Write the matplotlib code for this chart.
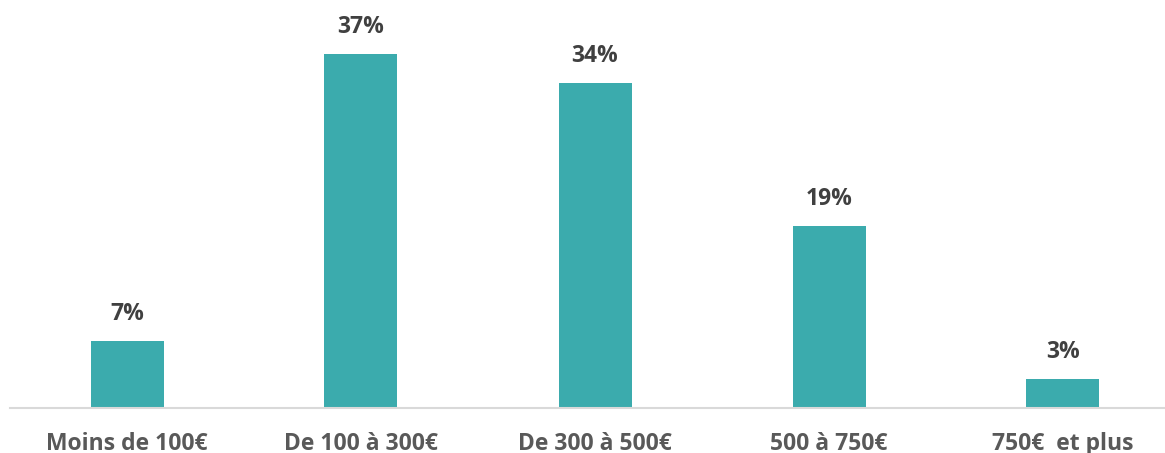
import matplotlib.pyplot as plt

categories = ['Moins de 100€', 'De 100 à 300€', 'De 300 à 500€', '500 à 750€', '750€  et plus']
values = [7, 37, 34, 19, 3]
labels = ['7%', '37%', '34%', '19%', '3%']

plt.rcParams['font.family'] = ['Open Sans', 'DejaVu Sans']

fig = plt.figure(figsize=(11.65, 4.53), dpi=100)
ax = fig.add_axes([10 / 1165, 45 / 453, 1155 / 1165, 408 / 453])

x = range(len(values))
ax.bar(x, values, width=73 / 234, color='#3BABAD', zorder=2)

for xi, v, lab in zip(x, values, labels):
    ax.annotate(lab, (xi, v), xytext=(0, 27), textcoords='offset pixels',
                ha='center', va='center', fontsize=16.5, fontweight='bold', color='#404040')

ax.set_xlim(-0.5, (1165 - 127) / 234)
ax.set_ylim(0, 408 / 9.57)
ax.set_xticks(list(x))
ax.set_xticklabels(categories, fontsize=16.5, fontweight='bold', color='#595959')
ax.tick_params(axis='x', length=0, pad=17)
ax.set_yticks([])
for side in ['top', 'right', 'left']:
    ax.spines[side].set_visible(False)
ax.spines['bottom'].set_color('#D9D9D9')
ax.spines['bottom'].set_linewidth(1.5)

fig.savefig('out.png', dpi=100)
